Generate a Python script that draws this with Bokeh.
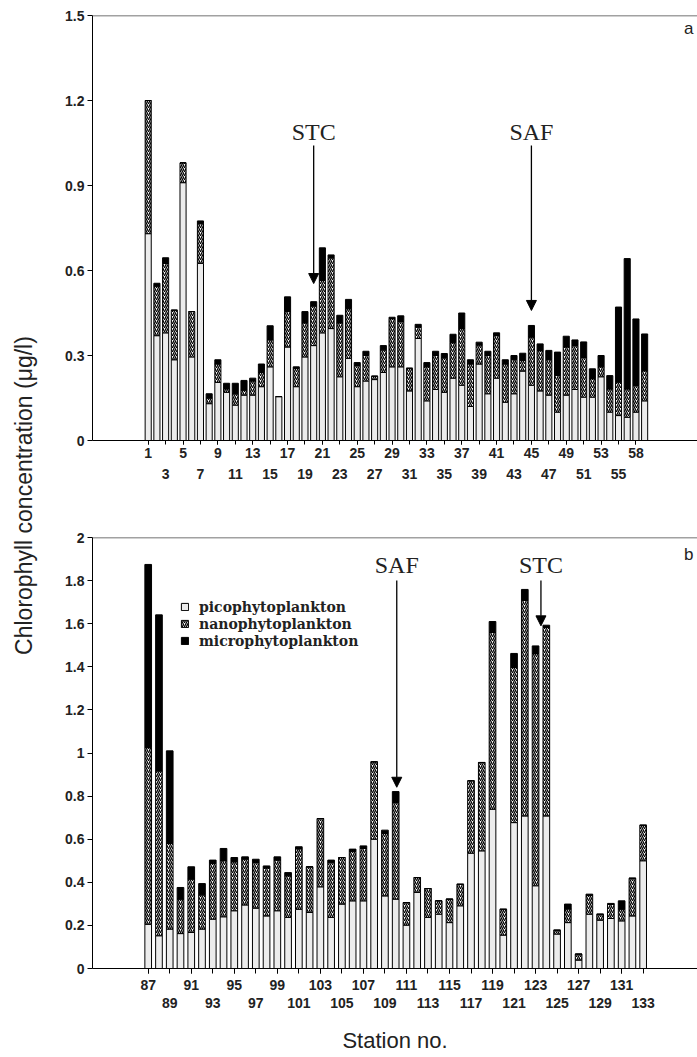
import math
import numpy as np
from bokeh.plotting import figure
from bokeh.layouts import row, column
from bokeh.models import (Range1d, LinearAxis, FixedTicker, Arrow, NormalHead, Label,
                          Span, Legend, LegendItem, ColumnDataSource)
from bokeh.core.properties import value
from bokeh.embed import file_html
from bokeh.resources import INLINE

# ---------------- data: panel a (stations 1..58, plotted on 58 slots) ----------------
slots_a = list(range(1, 59))
pico_a = [0.73, 0.37, 0.38, 0.285, 0.91, 0.295, 0.625, 0.13, 0.205, 0.17,
          0.125, 0.16, 0.16, 0.19, 0.26, 0.155, 0.33, 0.19, 0.295, 0.335,
          0.38, 0.395, 0.225, 0.29, 0.19, 0.21, 0.215, 0.24, 0.26, 0.26,
          0.175, 0.36, 0.14, 0.18, 0.17, 0.22, 0.195, 0.12, 0.27, 0.165,
          0.22, 0.135, 0.165, 0.245, 0.195, 0.175, 0.16, 0.10, 0.16, 0.18,
          0.153, 0.153, 0.225, 0.10, 0.088, 0.082, 0.10, 0.14]
nano_a = [0.47, 0.175, 0.245, 0.175, 0.07, 0.16, 0.14, 0.02, 0.065, 0.012,
          0.04, 0.018, 0.05, 0.05, 0.095, 0.0, 0.125, 0.065, 0.12, 0.14,
          0.185, 0.25, 0.19, 0.175, 0.075, 0.09, 0.012, 0.08, 0.17, 0.16,
          0.08, 0.04, 0.12, 0.12, 0.122, 0.125, 0.2, 0.15, 0.067, 0.135,
          0.15, 0.135, 0.12, 0.038, 0.17, 0.142, 0.125, 0.13, 0.17, 0.155,
          0.14, 0.065, 0.035, 0.082, 0.118, 0.10, 0.094, 0.106]
micro_a = [0.0, 0.01, 0.02, 0.0, 0.0, 0.0, 0.01, 0.015, 0.015, 0.02,
           0.037, 0.034, 0.01, 0.03, 0.05, 0.0, 0.052, 0.005, 0.04, 0.015,
           0.115, 0.01, 0.027, 0.033, 0.01, 0.015, 0.0, 0.015, 0.005, 0.02,
           0.0, 0.01, 0.015, 0.015, 0.015, 0.03, 0.055, 0.015, 0.01, 0.015,
           0.01, 0.015, 0.015, 0.025, 0.041, 0.024, 0.033, 0.082, 0.038, 0.02,
           0.055, 0.035, 0.04, 0.047, 0.265, 0.46, 0.235, 0.13]
ticks_a_top = [1, 5, 9, 13, 17, 21, 25, 29, 33, 37, 41, 45, 49, 53, 57]
labels_a_top = ["1", "5", "9", "13", "17", "21", "25", "29", "33", "37", "41", "45", "49", "53", "58"]
ticks_a_bot = [3, 7, 11, 15, 19, 23, 27, 31, 35, 39, 43, 47, 51, 55]
labels_a_bot = ["3", "7", "11", "15", "19", "23", "27", "31", "35", "39", "43", "47", "51", "55"]
yticks_a = [0, 0.3, 0.6, 0.9, 1.2, 1.5]
ylabels_a = ["0", "0.3", "0.6", "0.9", "1.2", "1.5"]

# ---------------- data: panel b (stations 87..133) ----------------
stations_b = list(range(87, 134))
pico_b = [0.205, 0.152, 0.183, 0.162, 0.167, 0.183, 0.229, 0.24, 0.268, 0.295,
          0.28, 0.244, 0.268, 0.237, 0.275, 0.26, 0.379, 0.237, 0.299, 0.314,
          0.314, 0.6, 0.337, 0.322, 0.201, 0.353, 0.237, 0.252, 0.213, 0.291,
          0.535, 0.546, 0.739, 0.155, 0.677, 0.708, 0.384, 0.708, 0.16, 0.213,
          0.039, 0.252, 0.224, 0.232, 0.221, 0.244, 0.5]
nano_b = [0.82, 0.765, 0.397, 0.16, 0.248, 0.159, 0.259, 0.26, 0.227, 0.213,
          0.212, 0.222, 0.235, 0.193, 0.28, 0.212, 0.317, 0.256, 0.216, 0.23,
          0.243, 0.359, 0.29, 0.448, 0.105, 0.069, 0.134, 0.062, 0.109, 0.1,
          0.336, 0.41, 0.82, 0.12, 0.72, 1.0, 1.077, 0.875, 0.018, 0.063,
          0.028, 0.088, 0.028, 0.065, 0.054, 0.175, 0.165]
micro_b = [0.85, 0.724, 0.43, 0.054, 0.057, 0.052, 0.015, 0.057, 0.02, 0.01,
           0.015, 0.01, 0.015, 0.015, 0.01, 0.0, 0.0, 0.01, 0.0, 0.01,
           0.012, 0.0, 0.015, 0.051, 0.0, 0.0, 0.0, 0.0, 0.0, 0.0,
           0.0, 0.0, 0.051, 0.0, 0.065, 0.051, 0.036, 0.01, 0.0, 0.023,
           0.0, 0.005, 0.0, 0.005, 0.039, 0.0, 0.0]
ticks_b_top = [87, 91, 95, 99, 103, 107, 111, 115, 119, 123, 127, 131]
ticks_b_bot = [89, 93, 97, 101, 105, 109, 113, 117, 121, 125, 129, 133]
yticks_b = [0, 0.2, 0.4, 0.6, 0.8, 1, 1.2, 1.4, 1.6, 1.8, 2]
ylabels_b = ["0", "0.2", "0.4", "0.6", "0.8", "1", "1.2", "1.4", "1.6", "1.8", "2"]

# annotations: (text, station slot, text y, arrow top y, arrow tip y)
marks_a = [("STC", 20.0, 1.089, 1.041, 0.554), ("SAF", 45.0, 1.089, 1.041, 0.459)]
marks_b = [("SAF", 110.1, 1.873, 1.80, 0.841), ("STC", 123.5, 1.873, 1.80, 1.59)]

series = ["picophytoplankton", "nanophytoplankton", "microphytoplankton"]

TICK_FONT = "Liberation Sans"
PICO_COLOR = "#ececec"
FIG_W = 657
LABEL_W = 40


def style_axis(ax, tick_out):
    ax.axis_line_color = "black"
    ax.axis_line_width = 1
    ax.major_tick_in = 0
    ax.major_tick_out = tick_out
    ax.minor_tick_in = 0
    ax.minor_tick_out = tick_out
    ax.major_tick_line_color = "black"
    ax.minor_tick_line_color = "black"
    ax.major_label_text_font = TICK_FONT
    ax.major_label_text_font_style = "bold"
    ax.major_label_text_font_size = "14px"
    ax.major_label_text_color = "#222222"


def make_panel(xs, pico, nano, micro, xr, yr, height, top_b, bot_b, bar_w,
               ticks_top, labels_top, ticks_bot, labels_bot, yticks, ylabels,
               tick_out1, std1, std2, marks, tag, tag_y, xlabel=None):
    p = figure(width=FIG_W, height=height, x_range=Range1d(*xr), y_range=Range1d(*yr),
               output_backend="svg", toolbar_location=None,
               min_border_left=52, min_border_right=0, min_border_top=top_b,
               min_border_bottom=bot_b)
    p.xgrid.visible = False
    p.ygrid.visible = False
    p.outline_line_color = None
    p.background_fill_color = "white"

    pico = np.array(pico); nano = np.array(nano); micro = np.array(micro)
    t0 = pico
    t1 = pico + nano
    t2 = t1 + micro
    src = ColumnDataSource(dict(x=xs, b0=np.zeros_like(pico), t0=t0, t1=t1, t2=t2))
    r1 = p.vbar(x="x", bottom="b0", top="t0", width=bar_w, source=src,
                fill_color=PICO_COLOR, line_color="black", line_width=1)
    r2 = p.vbar(x="x", bottom="t0", top="t1", width=bar_w, source=src,
                fill_color="white", hatch_pattern="/", hatch_color="black",
                hatch_scale=4, hatch_weight=1.3, line_color="black", line_width=1)
    r3 = p.vbar(x="x", bottom="t1", top="t2", width=bar_w, source=src,
                fill_color="black", line_color="black", line_width=1)

    # x axis row 1 (with ticks)
    ax1 = p.xaxis[0]
    all_ticks = sorted(ticks_top + ticks_bot)
    ax1.ticker = FixedTicker(ticks=ticks_top, minor_ticks=all_ticks)
    ax1.major_label_overrides = {t: l for t, l in zip(ticks_top, labels_top)}
    style_axis(ax1, tick_out1)
    ax1.major_label_standoff = std1

    # x axis row 2 (labels only)
    ax2 = LinearAxis(ticker=FixedTicker(ticks=ticks_bot, minor_ticks=[]))
    ax2.major_label_overrides = {t: l for t, l in zip(ticks_bot, labels_bot)}
    style_axis(ax2, 0)
    ax2.axis_line_color = None
    ax2.major_tick_line_color = None
    ax2.minor_tick_line_color = None
    ax2.major_label_standoff = std2
    if xlabel:
        ax2.axis_label = xlabel
        ax2.axis_label_text_font = "Liberation Sans"
        ax2.axis_label_text_font_style = "normal"
        ax2.axis_label_text_font_size = "22px"
        ax2.axis_label_text_color = "#222222"
        ax2.axis_label_standoff = 17
    p.add_layout(ax2, "below")

    # y axis
    ay = p.yaxis[0]
    ay.ticker = FixedTicker(ticks=yticks, minor_ticks=[])
    ay.major_label_overrides = {t: l for t, l in zip(yticks, ylabels)}
    style_axis(ay, 5)
    ay.major_label_standoff = 3

    # top frame line
    p.add_layout(Span(location=yr[1], dimension="width", line_color="#444444", line_width=1.5))

    for txt, xm, ty, ys, ye in marks:
        p.add_layout(Label(x=xm, y=ty, text=txt, text_align="center", text_baseline="middle",
                           text_font="Liberation Serif", text_font_size="24px",
                           text_color="#222222"))
        p.add_layout(Arrow(x_start=xm, y_start=ys, x_end=xm, y_end=ye, line_width=1.3,
                           line_color="black",
                           end=NormalHead(size=10, fill_color="black", line_color="black")))

    p.add_layout(Label(x=xr[1], x_offset=-4, y=tag_y, text=tag, text_align="right",
                       text_baseline="middle", text_font="Liberation Sans",
                       text_font_size="17px", text_color="#222222"))
    return p, (r1, r2, r3)


pa, _ = make_panel(slots_a, pico_a, nano_a, micro_a, (-5.395, 64.07), (0, 1.5), 485, 15, 45, 0.7,
                   ticks_a_top, labels_a_top, ticks_a_bot, labels_a_bot, yticks_a, ylabels_a,
                   4, 3, 8, marks_a, "a", 1.455)

pb, rends = make_panel(stations_b, pico_b, nano_b, micro_b, (81.823, 138.05), (0, 2), 571, 52, 88, 0.62,
                       ticks_b_top, [str(t) for t in ticks_b_top], ticks_b_bot,
                       [str(t) for t in ticks_b_bot], yticks_b, ylabels_b,
                       5, 6, 5, marks_b, "b", 1.92, xlabel="Station no.")

legend = Legend(items=[LegendItem(label=s, renderers=[r]) for s, r in zip(series, rends)],
                location=(88, 319), border_line_color=None, background_fill_alpha=0,
                padding=0, margin=0, spacing=0, glyph_width=9, glyph_height=9,
                label_height=17, label_standoff=10, label_text_font="DejaVu Serif",
                label_text_font_style="bold", label_text_font_size="14px",
                label_text_color="#222222")
pb.add_layout(legend)

# shared y-axis title
TOTAL_H = 485 + 571
pl = figure(width=LABEL_W, height=TOTAL_H, x_range=Range1d(0, LABEL_W), y_range=Range1d(0, TOTAL_H),
            output_backend="svg", toolbar_location=None, min_border=0,
            x_axis_location=None, y_axis_location=None)
pl.xgrid.visible = False
pl.ygrid.visible = False
pl.outline_line_color = None
pl.text(x=[23], y=[TOTAL_H - 495], text=["Chlorophyll concentration (\u03bcg/l)"], angle=math.pi / 2,
        text_align="center", text_baseline="middle", text_font=value("Liberation Sans"),
        text_font_size=value("23px"), text_color="#222222")

layout = row(pl, column(pa, pb))
open("out.html", "w").write(file_html(layout, INLINE))
